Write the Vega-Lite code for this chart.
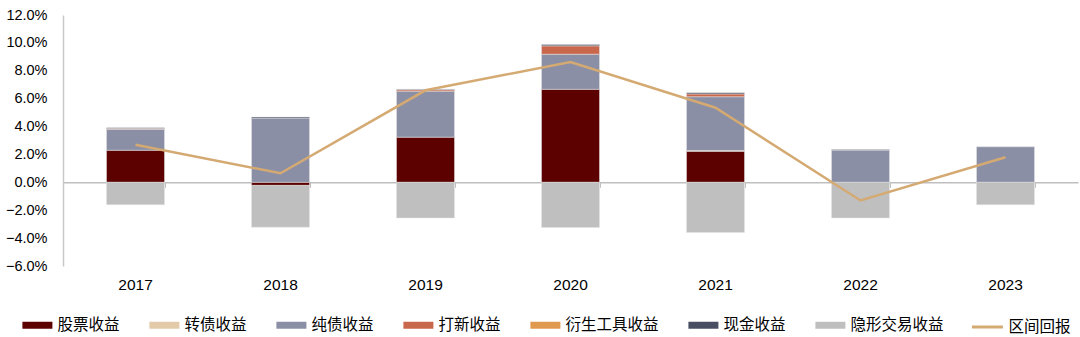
{
  "$schema": "https://vega.github.io/schema/vega-lite/v6.json",
  "width": 1015,
  "height": 251,
  "autosize": {"type": "none"},
  "padding": {"left": 63, "top": 15, "right": 2, "bottom": 71},
  "background": "white",
  "config": {"view": {"stroke": null}, "font": "Liberation Sans"},
  "datasets": {
    "bars": [
      {"year": "2017", "type": "股票收益", "ord": 1, "value": 2.3},
      {"year": "2017", "type": "纯债收益", "ord": 3, "value": 1.5},
      {"year": "2017", "type": "打新收益", "ord": 4, "value": 0.06},
      {"year": "2017", "type": "现金收益", "ord": 6, "value": 0.05},
      {"year": "2017", "type": "隐形交易收益", "ord": 7, "value": -1.6},
      {"year": "2018", "type": "股票收益", "ord": 1, "value": -0.22},
      {"year": "2018", "type": "纯债收益", "ord": 3, "value": 4.6},
      {"year": "2018", "type": "现金收益", "ord": 6, "value": 0.08},
      {"year": "2018", "type": "隐形交易收益", "ord": 7, "value": -3.0},
      {"year": "2019", "type": "股票收益", "ord": 1, "value": 3.24},
      {"year": "2019", "type": "纯债收益", "ord": 3, "value": 3.3},
      {"year": "2019", "type": "打新收益", "ord": 4, "value": 0.1},
      {"year": "2019", "type": "现金收益", "ord": 6, "value": 0.04},
      {"year": "2019", "type": "隐形交易收益", "ord": 7, "value": -2.56},
      {"year": "2020", "type": "股票收益", "ord": 1, "value": 6.67},
      {"year": "2020", "type": "纯债收益", "ord": 3, "value": 2.52},
      {"year": "2020", "type": "打新收益", "ord": 4, "value": 0.6},
      {"year": "2020", "type": "现金收益", "ord": 6, "value": 0.1},
      {"year": "2020", "type": "隐形交易收益", "ord": 7, "value": -3.24},
      {"year": "2021", "type": "股票收益", "ord": 1, "value": 2.23},
      {"year": "2021", "type": "转债收益", "ord": 2, "value": 0.05},
      {"year": "2021", "type": "纯债收益", "ord": 3, "value": 3.86},
      {"year": "2021", "type": "打新收益", "ord": 4, "value": 0.2},
      {"year": "2021", "type": "现金收益", "ord": 6, "value": 0.08},
      {"year": "2021", "type": "隐形交易收益", "ord": 7, "value": -3.6},
      {"year": "2022", "type": "纯债收益", "ord": 3, "value": 2.31},
      {"year": "2022", "type": "现金收益", "ord": 6, "value": 0.04},
      {"year": "2022", "type": "隐形交易收益", "ord": 7, "value": -2.56},
      {"year": "2023", "type": "纯债收益", "ord": 3, "value": 2.55},
      {"year": "2023", "type": "隐形交易收益", "ord": 7, "value": -1.6}
    ],
    "line": [
      {"year": "2017", "type": "区间回报", "ret": 2.7},
      {"year": "2018", "type": "区间回报", "ret": 0.65},
      {"year": "2019", "type": "区间回报", "ret": 6.6},
      {"year": "2020", "type": "区间回报", "ret": 8.63},
      {"year": "2021", "type": "区间回报", "ret": 5.35},
      {"year": "2022", "type": "区间回报", "ret": -1.3},
      {"year": "2023", "type": "区间回报", "ret": 1.8}
    ]
  },
  "resolve": {"axis": {"x": "independent"}},
  "layer": [
    {
      "data": {"name": "bars"},
      "mark": {"type": "bar", "stroke": "#e4e4e4", "strokeWidth": 0.5},
      "encoding": {
        "x": {
          "field": "year", "type": "ordinal",
          "scale": {"paddingInner": 0.6, "paddingOuter": 0.3},
          "axis": {
            "title": null, "orient": "bottom", "labelAngle": 0,
            "domain": false, "ticks": false,
            "labelFont": "Liberation Sans", "labelFontSize": 15.5, "labelColor": "#000000",
            "labelPadding": 11
          }
        },
        "y": {
          "field": "value", "type": "quantitative", "stack": "zero",
          "scale": {"domain": [-6, 12], "nice": false},
          "axis": {
            "title": null, "values": [-6, -4, -2, 0, 2, 4, 6, 8, 10, 12],
            "labelExpr": "format(datum.value, '.1f') + '%'",
            "labelOverlap": false, "labelBound": false,
            "grid": false, "ticks": false,
            "domainColor": "#c8c8c8", "domainWidth": 1.5,
            "labelFont": "Liberation Sans", "labelFontSize": 14.5, "labelColor": "#000000",
            "labelPadding": 16
          }
        },
        "fill": {
          "field": "type", "type": "nominal",
          "scale": {
            "domain": ["股票收益", "转债收益", "纯债收益", "打新收益", "衍生工具收益", "现金收益", "隐形交易收益"],
            "range": ["#5c0000", "#e3caa9", "#8a8fa6", "#c8674c", "#e0994f", "#4a4e63", "#bfbfbf"]
          },
          "legend": {
            "title": null, "orient": "none", "legendX": -40.6, "legendY": 295,
            "direction": "horizontal", "columns": 7, "columnPadding": 29,
            "symbolType": "M-1,-0.233L1,-0.233L1,0.233L-1,0.233Z",
            "symbolSize": 900, "symbolStrokeWidth": 0, "symbolOpacity": 1,
            "labelFont": "Noto Sans CJK SC", "labelFontSize": 15.5, "labelColor": "#000000",
            "labelOffset": 5
          }
        },
        "order": {"field": "ord", "type": "quantitative"}
      }
    },
    {
      "data": {"name": "line"},
      "mark": {"type": "line", "strokeWidth": 2.5},
      "encoding": {
        "x": {
          "field": "year", "type": "ordinal",
          "axis": {
            "title": null, "orient": "bottom", "offset": -83.7, "labels": false,
            "domainColor": "#bfbfbf", "domainWidth": 1.5,
            "tickColor": "#bfbfbf", "tickSize": 5, "tickWidth": 1, "tickBand": "extent"
          }
        },
        "y": {
          "field": "ret", "type": "quantitative",
          "axis": {
            "title": null, "values": [-6, -4, -2, 0, 2, 4, 6, 8, 10, 12],
            "labelExpr": "format(datum.value, '.1f') + '%'",
            "labelOverlap": false, "labelBound": false,
            "grid": false, "ticks": false,
            "domainColor": "#c8c8c8", "domainWidth": 1.5,
            "labelFont": "Liberation Sans", "labelFontSize": 14.5, "labelColor": "#000000",
            "labelPadding": 16
          }
        },
        "stroke": {
          "field": "type", "type": "nominal",
          "scale": {"domain": ["区间回报"], "range": ["#d4aa72"]},
          "legend": {
            "title": null, "orient": "none", "legendX": 907.4, "legendY": 295,
            "symbolType": "stroke", "symbolSize": 961, "symbolStrokeWidth": 3,
            "labelFont": "Noto Sans CJK SC", "labelFontSize": 15.5, "labelColor": "#000000",
            "labelOffset": 4
          }
        }
      }
    }
  ]
}
